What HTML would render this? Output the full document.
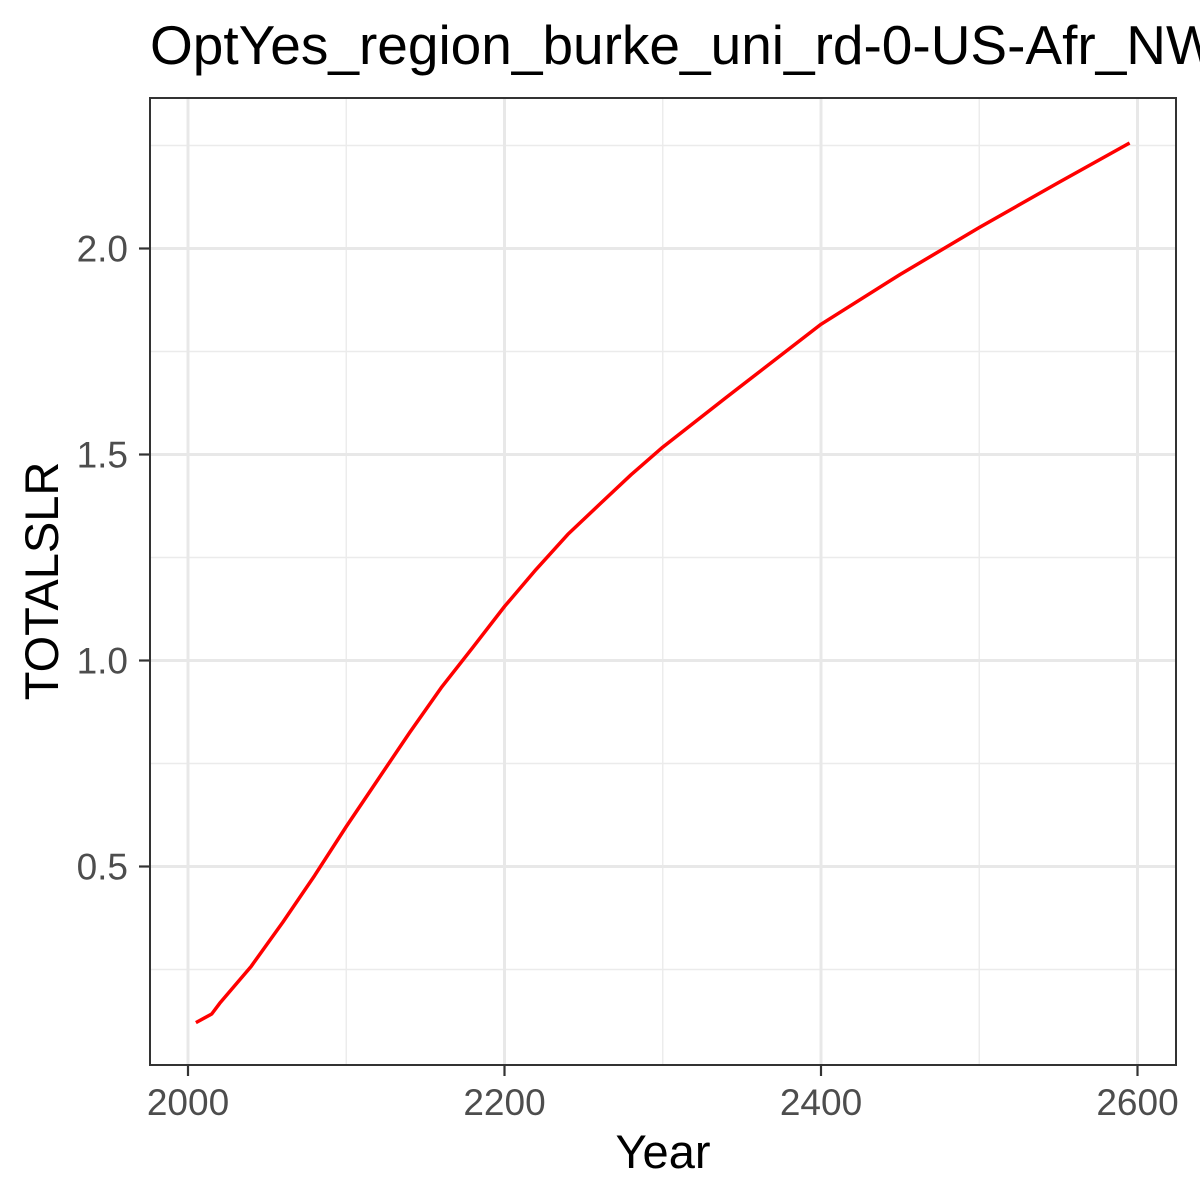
<!DOCTYPE html>
<html><head><meta charset="utf-8"><style>
html,body{margin:0;padding:0;background:#fff;}
svg{display:block;font-family:"Liberation Sans",Arial,sans-serif;}
</style></head><body>
<svg id="chart" width="1200" height="1200" viewBox="0 0 1200 1200">
<rect x="0" y="0" width="1200" height="1200" fill="#fff"/>
<text x="150" y="64" font-size="55" fill="#000">OptYes_region_burke_uni_rd-0-US-Afr_NW</text>
<g id="grid"></g>
<g id="series"></g>
<rect x="150" y="98" width="1026" height="967" fill="none" stroke="#333" stroke-width="2"/>
<g id="axes"></g>
<text x="663" y="1168" font-size="47" text-anchor="middle" fill="#000">Year</text>
<text transform="translate(58,581) rotate(-90)" font-size="47" text-anchor="middle" fill="#000">TOTALSLR</text>
</svg>
<script>
const years = [2005, 2015, 2020, 2040, 2060, 2080, 2100, 2120, 2140, 2160, 2180, 2200, 2220, 2240, 2260, 2280, 2300, 2340, 2400, 2450, 2500, 2550, 2595];
const slr = [0.121, 0.142, 0.168, 0.258, 0.365, 0.478, 0.597, 0.711, 0.825, 0.934, 1.032, 1.131, 1.221, 1.306, 1.379, 1.451, 1.518, 1.638, 1.816, 1.937, 2.051, 2.160, 2.256];
const xTicks = [2000, 2200, 2400, 2600];
const xMinor = [2100, 2300, 2500];
const yTicks = [0.5, 1.0, 1.5, 2.0];
const yTickLabels = ["0.5", "1.0", "1.5", "2.0"];
const yMinor = [0.25, 0.75, 1.25, 1.75, 2.25];

const NS = "http://www.w3.org/2000/svg";
const X0 = 150, X1 = 1176, Y0 = 98, Y1 = 1065;
function sx(v){ return 188 + (v - 2000) * (1137.5 - 188) / 600; }
function sy(v){ return 248.5 + (2.0 - v) * 412; }
function mk(tag, attrs, parent){
  const e = document.createElementNS(NS, tag);
  for (const k in attrs) e.setAttribute(k, attrs[k]);
  parent.appendChild(e);
  return e;
}
const grid = document.getElementById('grid');
const axes = document.getElementById('axes');
const series = document.getElementById('series');

yMinor.forEach(v => {
  const l = mk('line', {x1:X0, x2:X1, y1:sy(v), y2:sy(v), stroke:'#ebebeb', 'stroke-width':1.4}, grid);
  
  
});
xMinor.forEach(v => {
  const l = mk('line', {x1:sx(v), x2:sx(v), y1:Y0, y2:Y1, stroke:'#ebebeb', 'stroke-width':1.4}, grid);
  
  
});
yTicks.forEach((v, i) => {
  const l = mk('line', {x1:X0, x2:X1, y1:sy(v), y2:sy(v), stroke:'#e8e8e8', 'stroke-width':3}, grid);
  
  
  const t = mk('line', {x1:X0 - 11, x2:X0, y1:sy(v), y2:sy(v), stroke:'#333', 'stroke-width':2.2}, axes);
  
  
  const tx = mk('text', {x:128, y:sy(v) + 13, 'font-size':37, 'text-anchor':'end', fill:'#4d4d4d'}, axes);
  tx.textContent = yTickLabels[i];
  
  
});
xTicks.forEach(v => {
  const l = mk('line', {x1:sx(v), x2:sx(v), y1:Y0, y2:Y1, stroke:'#e8e8e8', 'stroke-width':3}, grid);
  
  
  const t = mk('line', {x1:sx(v), x2:sx(v), y1:Y1, y2:Y1 + 11, stroke:'#333', 'stroke-width':2.2}, axes);
  
  
  const tx = mk('text', {x:sx(v), y:1115, 'font-size':37, 'text-anchor':'middle', fill:'#4d4d4d'}, axes);
  tx.textContent = String(v);
  
  
});
const pts = years.map((y, i) => sx(y).toFixed(1) + ',' + sy(slr[i]).toFixed(1)).join(' ');
const line = mk('polyline', {points:pts, fill:'none', stroke:'#ff0000', 'stroke-width':3.5, 'stroke-linejoin':'round'}, series);


</script>
</body></html>
